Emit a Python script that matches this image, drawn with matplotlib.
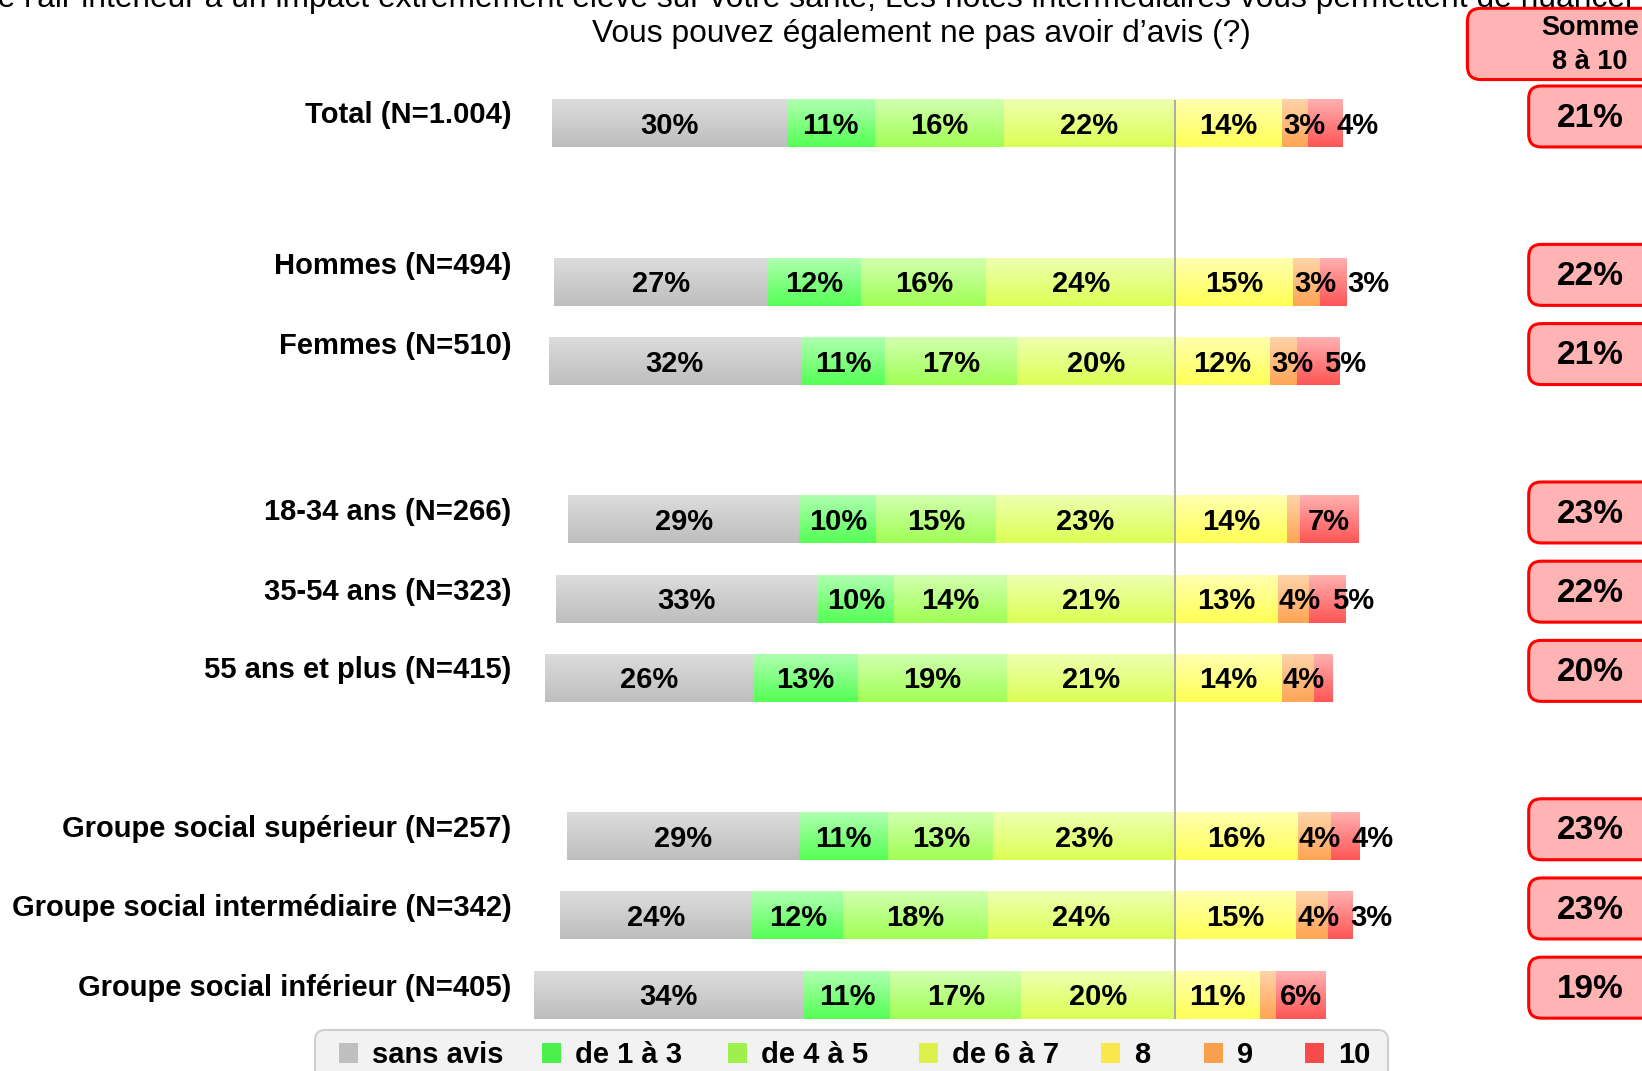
import numpy as np
import matplotlib
matplotlib.use("Agg")
import matplotlib.pyplot as plt
from matplotlib.colors import LinearSegmentedColormap
from matplotlib.patches import FancyBboxPatch, Rectangle

plt.rcParams['font.family'] = ['Liberation Sans', 'DejaVu Sans']

# --- data ---
groups = ["Total (N=1.004)", "Hommes (N=494)", "Femmes (N=510)",
          "18-34 ans (N=266)", "35-54 ans (N=323)", "55 ans et plus (N=415)",
          "Groupe social supérieur (N=257)", "Groupe social intermédiaire (N=342)",
          "Groupe social inférieur (N=405)"]
slots = [0, 2, 3, 5, 6, 7, 9, 10, 11]
series = ["sans avis", "de 1 à 3", "de 4 à 5", "de 6 à 7", "8", "9", "10"]
sans_avis = [29.8, 27.2, 32.1, 29.4, 33.4, 26.4, 29.4, 24.4, 34.4]
de_1_a_3 = [11.2, 11.9, 10.7, 9.8, 9.6, 13.4, 11.4, 11.6, 11.0]
de_4_a_5 = [16.4, 15.9, 16.8, 15.2, 14.4, 18.9, 13.4, 18.4, 16.6]
de_6_a_7 = [21.8, 24.0, 20.1, 22.8, 21.4, 21.4, 23.1, 23.8, 19.6]
note_8 = [13.6, 15.0, 12.1, 14.3, 13.1, 13.6, 15.6, 15.4, 10.8]
note_9 = [3.3, 3.4, 3.4, 1.6, 4.0, 4.1, 4.2, 4.1, 2.1]
note_10 = [4.4, 3.4, 5.4, 7.4, 4.7, 2.4, 3.6, 3.1, 6.3]
somme_8_10 = [21, 22, 21, 23, 22, 20, 23, 23, 19]

title_top = ("de l'air intérieur a un impact extrêmement élevé sur votre santé, "
             "Les notes intermédiaires vous permettent de nuancer votre réponse.")
subtitle = "Vous pouvez également ne pas avoir d’avis (?)"

# --- styles ---
tops = ["#DCDCDC", "#AFFFAF", "#D2FFAF", "#EEFFB0", "#FFFFB0", "#FFD3A8", "#FFB0B0"]
bottoms = ["#BEBEBE", "#55FF55", "#A0FF55", "#DBFF55", "#FFFF55", "#FFA555", "#FF5555"]
legend_colors = ["#BFBFBF", "#4CF04C", "#9EF04C", "#DDF04C", "#F8E84C", "#F8A04C", "#F84C4C"]
legend_x = [339, 542, 728, 919, 1101, 1204, 1305]   # square left edges, px
label_dy = [-0.11, -0.2, -0.19, -0.09, -0.09, -0.1, -0.09, -0.09, -0.09]
bar_h = 0.6

W, H = 1642, 1071
fig = plt.figure(figsize=(W / 100, H / 100), dpi=100)
ax = fig.add_axes([0, 0, 1, 1])
ax.axis("off")

center_px = 1175
ppu = 7.86          # pixels per percentage point
row_px = 79.2       # pixels per row slot
row0_px = 123.6
xlim = (-center_px / ppu, (W - center_px) / ppu)
ylim = ((H - row0_px) / row_px, -row0_px / row_px)

all_vals = [sans_avis, de_1_a_3, de_4_a_5, de_6_a_7, note_8, note_9, note_10]
left_total = np.sum(all_vals[:4], axis=0)
starts = -left_total
grad = np.linspace(0, 1, 64).reshape(-1, 1)
label_texts = [[None] * len(all_vals) for _ in slots]
seg_left = [[None] * len(all_vals) for _ in slots]

for k, vals in enumerate(all_vals):
    vals = np.array(vals)
    bars = ax.barh(slots, vals, left=starts, height=bar_h, color=bottoms[k],
                   linewidth=0, zorder=1)
    cmap = LinearSegmentedColormap.from_list("g%d" % k, [tops[k], bottoms[k]])
    for i, b in enumerate(bars):
        x0, y0, w, h = b.get_x(), b.get_y(), b.get_width(), b.get_height()
        ax.imshow(grad, cmap=cmap, extent=(x0, x0 + w, y0 + h, y0),
                  aspect="auto", interpolation="bilinear", zorder=2)
        seg_left[i][k] = x0
        if vals[i] >= 2.5:
            t = ax.text(x0 + w / 2, slots[i] + 0.03, "%d%%" % round(vals[i]),
                        ha="center", va="center", fontsize=21,
                        fontweight="bold", zorder=4)
            label_texts[i][k] = t
    starts = starts + vals

# center line
ax.vlines(0, min(slots) - bar_h / 2, max(slots) + bar_h / 2,
          color="#A6A6A6", lw=1.3, zorder=3)

# row labels
for g, s, dy in zip(groups, slots, label_dy):
    ax.text(-84.4, s + dy, g, ha="right", va="center",
            fontsize=21, fontweight="bold")

# "Somme 8 a 10" boxes
asp = ppu / row_px
hdr = FancyBboxPatch((37.2, -1.456), 30, 0.9, boxstyle="round,pad=0,rounding_size=1.7",
                     mutation_aspect=asp, fc="#FFB3B3", ec="#FF0000", lw=2.2,
                     clip_on=False, zorder=3)
ax.add_patch(hdr)
ax.text(52.8, -0.99, "Somme\n8 à 10", ha="center", va="center", fontsize=19.5,
        fontweight="bold", linespacing=1.4, zorder=4)
for s, v in zip(slots, somme_8_10):
    box = FancyBboxPatch((45.0, s - 0.09 - 0.385), 30, 0.77,
                         boxstyle="round,pad=0,rounding_size=1.6",
                         mutation_aspect=asp, fc="#FFB3B3", ec="#FF0000", lw=2.2,
                         clip_on=False, zorder=3)
    ax.add_patch(box)
    ax.text(52.8, s - 0.07, "%d%%" % v, ha="center", va="center",
            fontsize=24, fontweight="bold", zorder=4)

ax.set_xlim(*xlim)
ax.set_ylim(*ylim)

# titles
fig.text(-20 / W, 1 - 7 / H, title_top, ha="left", va="baseline", fontsize=22.9)
fig.text(921 / W, 1 - 34 / H, subtitle, ha="center", va="center", fontsize=22.9)

# legend (drawn in figure pixels)
lax = fig.add_axes([0, 0, 1, 1], zorder=5)
lax.set_xlim(0, W)
lax.set_ylim(H, 0)
lax.axis("off")
frame = FancyBboxPatch((315, 1030), 1388 - 315, 80, boxstyle="round,pad=0,rounding_size=10",
                       fc="#F2F2F2", ec="#CFCFCF", lw=1.5)
lax.add_patch(frame)
for name, c, x in zip(series, legend_colors, legend_x):
    lax.add_patch(Rectangle((x, 1043), 19, 20, fc=c, ec="none"))
    lax.text(x + 33, 1055, name, ha="left", va="center", fontsize=21,
             fontweight="bold")

# right-side labels: keep narrow ones inside from their segment start,
# and push overlapping ones to the right
fig.canvas.draw()
r = fig.canvas.get_renderer()
gap = 11
for row, lefts in zip(label_texts, seg_left):
    prev_right = None
    for t, sl in zip(row[4:], lefts[4:]):
        if t is None:
            continue
        bb = t.get_window_extent(r)
        x0, x1 = bb.x0, bb.x1
        shift = 0
        sl_px = ax.transData.transform((sl, 0))[0]
        if x0 < sl_px:
            shift = sl_px + 1 - x0
        if prev_right is not None and x0 + shift < prev_right + gap:
            shift = prev_right + gap - x0
        if shift:
            t.set_x(t.get_position()[0] + shift / ppu)
        prev_right = x1 + shift

fig.savefig("out.png", dpi=100)
